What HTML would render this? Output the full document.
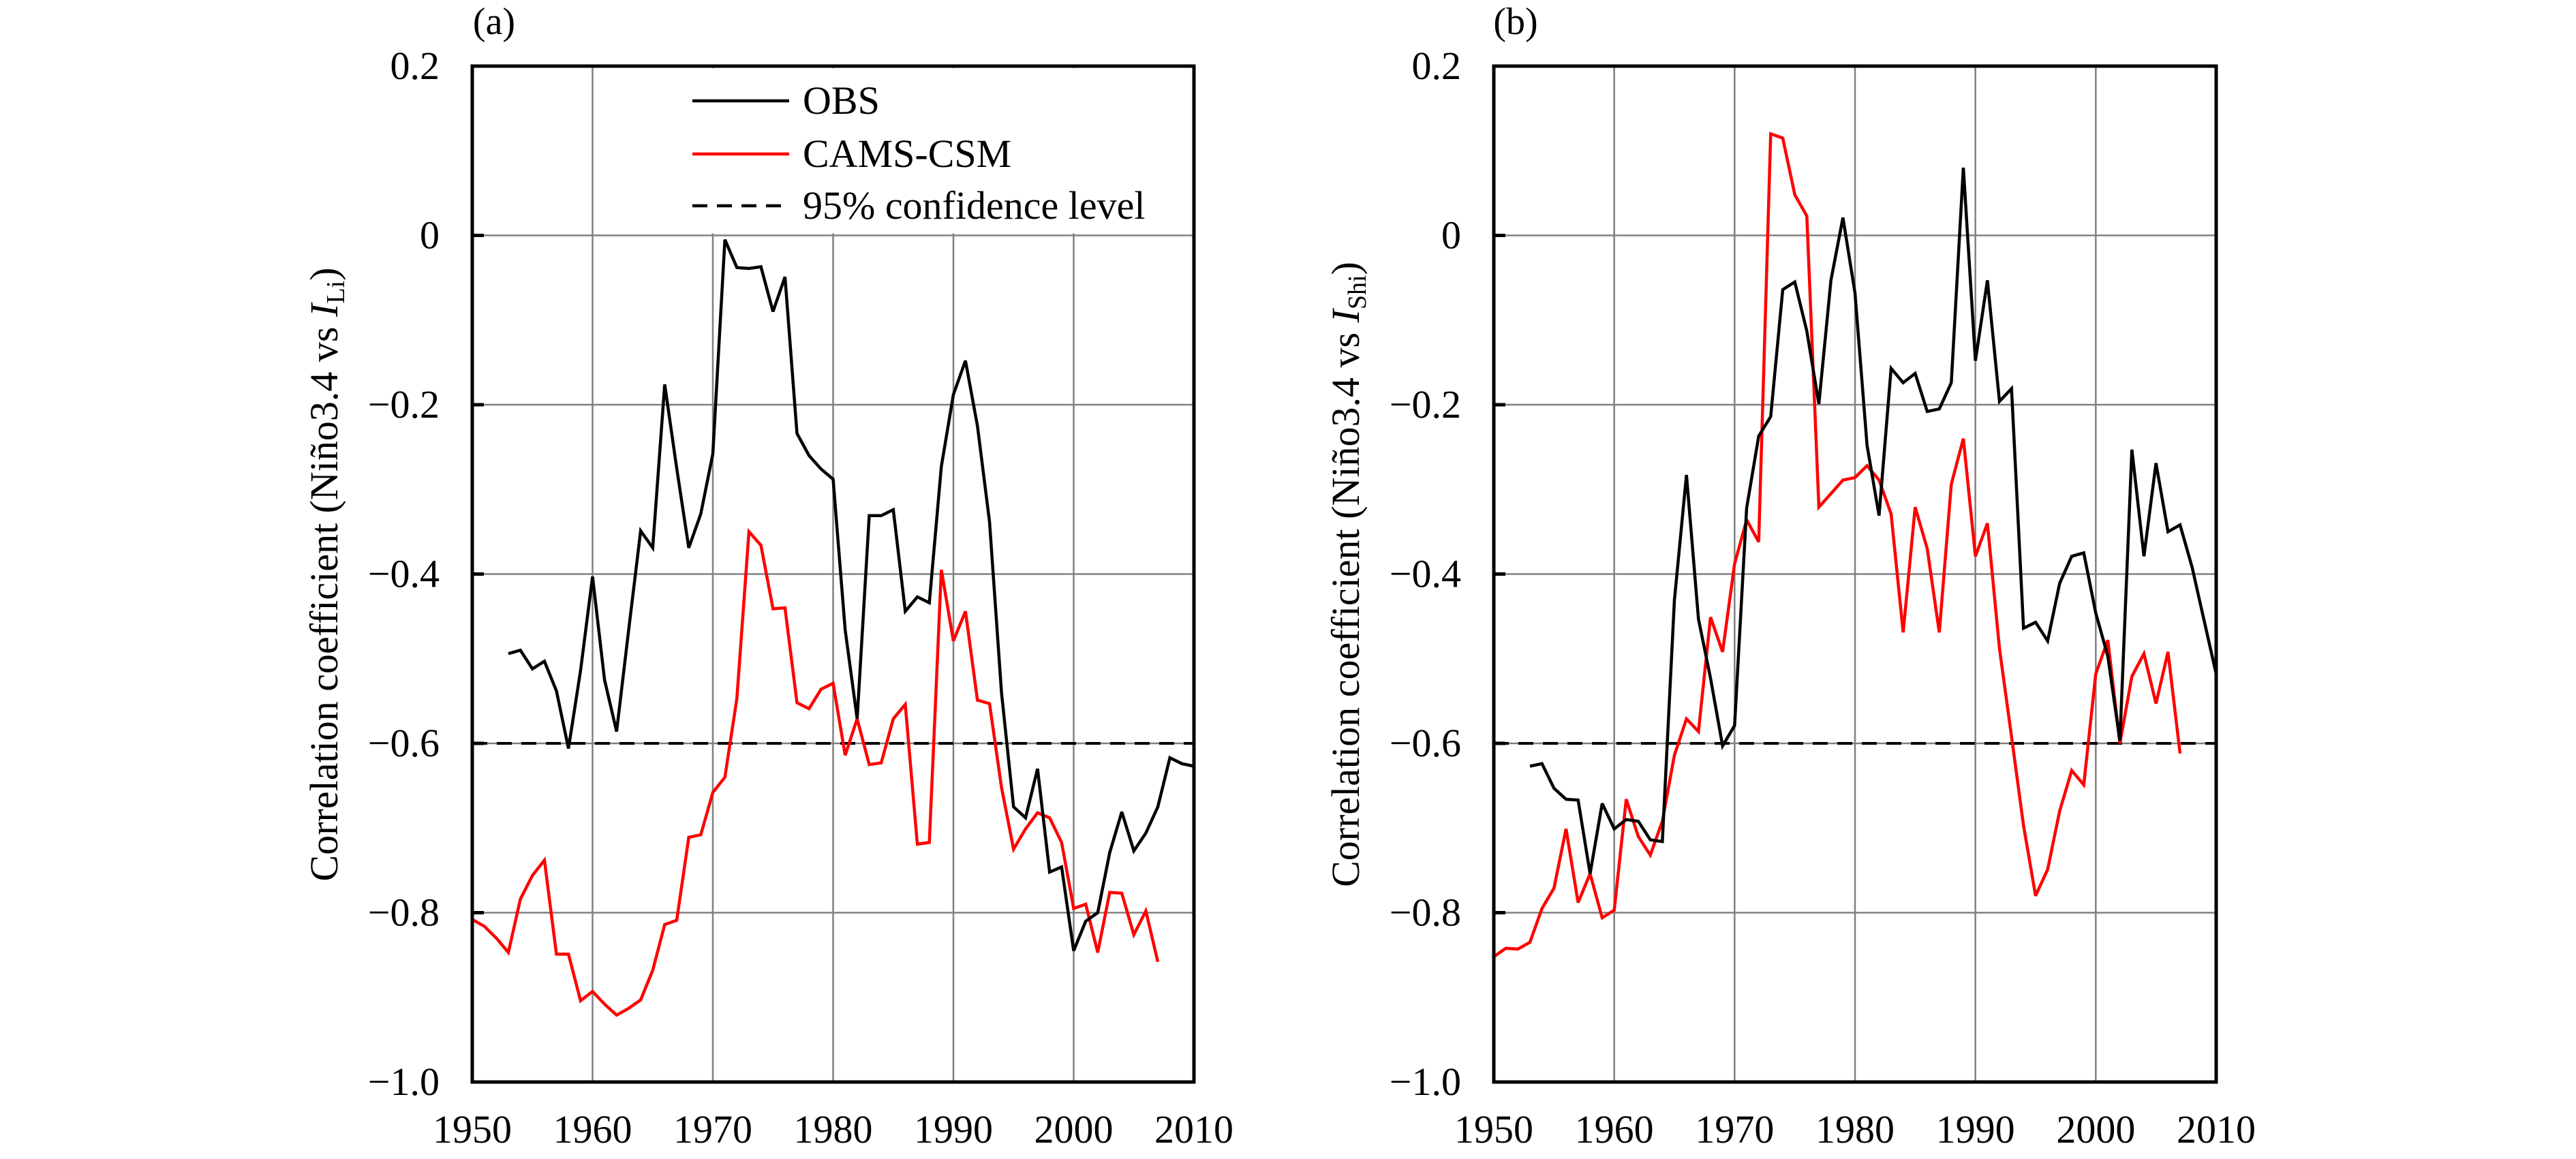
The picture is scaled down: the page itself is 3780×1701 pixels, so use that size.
<!DOCTYPE html>
<html><head><meta charset="utf-8"><style>
html,body{margin:0;padding:0;background:#fff;}
svg, svg text, svg tspan{font-family:"Liberation Serif","DejaVu Serif","Times New Roman",Times,serif;}
</style></head><body>
<svg id="chart" width="3780" height="1696" viewBox="0 0 3780 1696" xmlns="http://www.w3.org/2000/svg" font-family="Liberation Serif, DejaVu Serif, Times New Roman, serif"></svg>
<script>
const years = [];
for (let y = 1950; y <= 2010; y++) years.push(y);
const xTicks = [1950,1960,1970,1980,1990,2000,2010];
const yTicks = [0.2,0,-0.2,-0.4,-0.6,-0.8,-1.0];
const yTickLabels = ["0.2","0","\u22120.2","\u22120.4","\u22120.6","\u22120.8","\u22121.0"];
const confLevel = -0.6;
const obsStartA = 1953;
const obsA = [-0.494,-0.49,-0.512,-0.503,-0.538,-0.606,-0.514,-0.403,-0.525,-0.586,-0.466,-0.349,-0.369,-0.176,-0.275,-0.369,-0.329,-0.258,-0.005,-0.038,-0.039,-0.037,-0.09,-0.049,-0.234,-0.26,-0.276,-0.288,-0.466,-0.571,-0.331,-0.331,-0.324,-0.444,-0.427,-0.434,-0.273,-0.188,-0.148,-0.225,-0.338,-0.54,-0.675,-0.688,-0.63,-0.752,-0.746,-0.845,-0.81,-0.8,-0.729,-0.681,-0.727,-0.706,-0.675,-0.617,-0.624,-0.627];
const camsStartA = 1950;
const camsA = [-0.808,-0.816,-0.83,-0.847,-0.784,-0.756,-0.738,-0.849,-0.849,-0.904,-0.893,-0.908,-0.921,-0.913,-0.903,-0.868,-0.814,-0.809,-0.711,-0.708,-0.658,-0.64,-0.547,-0.35,-0.366,-0.441,-0.44,-0.552,-0.559,-0.536,-0.529,-0.614,-0.571,-0.625,-0.623,-0.571,-0.554,-0.719,-0.717,-0.395,-0.479,-0.444,-0.549,-0.553,-0.652,-0.725,-0.701,-0.682,-0.688,-0.717,-0.795,-0.79,-0.847,-0.776,-0.777,-0.826,-0.798,-0.858];
const obsStartB = 1953;
const obsB = [-0.627,-0.624,-0.653,-0.666,-0.667,-0.754,-0.671,-0.701,-0.69,-0.692,-0.714,-0.716,-0.431,-0.283,-0.453,-0.523,-0.603,-0.579,-0.322,-0.237,-0.214,-0.064,-0.055,-0.113,-0.199,-0.053,0.021,-0.068,-0.248,-0.331,-0.157,-0.174,-0.163,-0.208,-0.205,-0.174,0.08,-0.148,-0.053,-0.196,-0.181,-0.464,-0.457,-0.479,-0.411,-0.379,-0.375,-0.446,-0.497,-0.597,-0.253,-0.379,-0.269,-0.35,-0.342,-0.392,-0.455,-0.518];
const camsStartB = 1950;
const camsB = [-0.852,-0.842,-0.843,-0.835,-0.795,-0.771,-0.701,-0.788,-0.754,-0.806,-0.797,-0.666,-0.71,-0.732,-0.692,-0.614,-0.571,-0.586,-0.451,-0.492,-0.388,-0.336,-0.362,0.12,0.115,0.048,0.023,-0.321,-0.305,-0.289,-0.286,-0.272,-0.289,-0.329,-0.469,-0.321,-0.37,-0.469,-0.294,-0.24,-0.379,-0.34,-0.488,-0.592,-0.697,-0.78,-0.749,-0.68,-0.632,-0.649,-0.518,-0.478,-0.6,-0.521,-0.494,-0.553,-0.492,-0.612];

const NS = "http://www.w3.org/2000/svg";
const FONT = "Liberation Serif, DejaVu Serif, Times New Roman, serif";
const svg = document.getElementById("chart");
function mk(tag, attrs, parent, txt){
  const e = document.createElementNS(NS, tag);
  for (const k in attrs) e.setAttribute(k, attrs[k]);
  if (tag === "text") e.setAttribute("font-family", FONT);
  if (txt !== undefined) e.textContent = txt;
  (parent||svg).appendChild(e);
  return e;
}

function panel(p){
  const g = mk("g", {});
  
  
  const L=p.left, R=p.right, T=97, B=1588;
  const xs = v => L + (v-1950)/60*(R-L);
  const ys = v => T + (0.2-v)/1.2*(B-T);
  const grid = mk("g", {stroke:"#808080","stroke-width":2.5}, g);
  
  
  xTicks.forEach(t => { mk("line",{x1:xs(t),x2:xs(t),y1:T,y2:B},grid); });
  yTicks.forEach(t => { mk("line",{x1:L,x2:R,y1:ys(t),y2:ys(t)},grid); });
  if (p.legend){
    const bg = mk("rect",{x:989,y:T+3,width:R-989-4,height:ys(0)-T-6,fill:"#fff"},g);
    
    
  }
  yTicks.forEach(t => { mk("line",{x1:L,x2:L+17,y1:ys(t),y2:ys(t),stroke:"#000","stroke-width":5},g); });
  const cl = mk("line",{x1:L,x2:R,y1:ys(confLevel),y2:ys(confLevel),stroke:"#000","stroke-width":4,"stroke-dasharray":"22,14"},g);
  
  
  function series(vals,start,color,name){
    const pts = vals.map((v,i)=>xs(start+i).toFixed(1)+","+ys(v).toFixed(1)).join(" ");
    const pl = mk("polyline",{points:pts,fill:"none",stroke:color,"stroke-width":4.5,"stroke-linejoin":"miter","stroke-miterlimit":3},g);
    
    
  }
  series(p.cams,p.camsStart,"#ff0000","cams-csm-line");
  series(p.obs,p.obsStart,"#000000","obs-line");
  const fr = mk("rect",{x:L,y:T,width:R-L,height:B-T,fill:"none",stroke:"#000","stroke-width":5},g);
  
  
  yTicks.forEach((t,i)=>{
    const tx = mk("text",{x:L-48,y:ys(t)+19,"text-anchor":"end","font-size":58},g,yTickLabels[i]);
    
    
  });
  xTicks.forEach(t=>{
    const tx = mk("text",{x:xs(t),y:1677,"text-anchor":"middle","font-size":58},g,String(t));
    
    
  });
  const pl = mk("text",{x:L+32,y:50,"text-anchor":"middle","font-size":56},g,p.label);
  
  
  const yt = mk("text",{transform:`translate(${L-198},843) rotate(-90)`,"text-anchor":"middle","font-size":58},g);
  
  
  mk("tspan",{},yt,"Correlation coefficient (Niño3.4 vs ");
  mk("tspan",{"font-style":"italic"},yt,"I");
  mk("tspan",{"font-size":38,dy:10},yt,p.sub);
  mk("tspan",{dy:-10},yt,")");
  if (p.legend){
    const lg = mk("g",{},g);
    
    
    const items = [["OBS","#000",null,148],["CAMS-CSM","#ff0000",null,226],["95% confidence level","#000","22,14",302]];
    items.forEach(it=>{
      const a = {x1:1016,x2:1158,y1:it[3],y2:it[3],stroke:it[1],"stroke-width":4.5};
      if (it[2]) a["stroke-dasharray"]=it[2];
      const ln = mk("line",a,lg);
      
      
      const tx = mk("text",{x:1178,y:it[3]+19,"font-size":58},lg,it[0]);
      
      
    });
  }
}
panel({id:"panel-a",left:693,right:1752,label:"(a)",sub:"Li",legend:true,obs:obsA,obsStart:obsStartA,cams:camsA,camsStart:camsStartA});
panel({id:"panel-b",left:2192,right:3252,label:"(b)",sub:"Shi",legend:false,obs:obsB,obsStart:obsStartB,cams:camsB,camsStart:camsStartB});
</script>
</body></html>
